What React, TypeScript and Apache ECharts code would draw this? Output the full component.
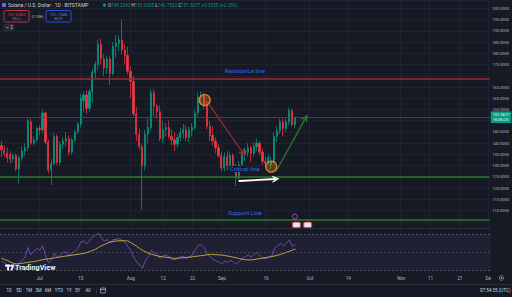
import React, { useEffect, useRef } from 'react';
import * as echarts from 'echarts';

const BG = '#161a25';
const GRID = '#1f2330';
const TXT = '#b2b5be';
const UP = '#089981';
const DOWN = '#f23645';
const BLUE = '#2f64f0';
const FONT = 'Roboto, "Liberation Sans", Arial, sans-serif';

// categories: daily bars Jun 18 2024 .. Dec 1 2024
const START_UTC = Date.UTC(2024, 5, 18);
const N_DAYS = 167;
const dates: string[] = Array.from({ length: N_DAYS }, (_, i) =>
  new Date(START_UTC + i * 86400000).toISOString().slice(0, 10)
);

const tickDates = ['2024-07-01', '2024-07-15', '2024-08-01', '2024-08-12', '2024-08-22', '2024-09-01', '2024-09-16', '2024-10-01', '2024-10-14', '2024-11-01', '2024-11-11', '2024-11-21', '2024-12-01'];
const tickLabels = ['Jul', '15', 'Aug', '12', '22', 'Sep', '16', 'Oct', '14', 'Nov', '11', '21', 'Dec'];

// [open, close, low, high]
const candlesJun = [
  [139, 137, 134, 141], [137, 135.5, 134, 139], [135.5, 133.5, 131.5, 138], [135, 133, 131, 136.5],
  [133, 134.5, 131.5, 135.5], [134.5, 128.5, 127.5, 135.5], [128.5, 133.5, 122, 134.5], [133.5, 136.5, 132, 138.5],
  [136.5, 138, 134.5, 140], [138, 150, 136.5, 151], [149.5, 140, 139, 151], [140, 141.5, 139, 143],
  [141.5, 146.5, 140.5, 147.5],
];
const candlesJul = [
  [146.5, 146, 143.5, 148], [146, 153.5, 144.5, 155], [153.5, 140.5, 139.5, 154], [140.5, 128, 126.5, 141.5],
  [128, 131, 121.5, 133], [131, 143, 130, 144.5], [143, 131.5, 130.5, 144], [131.5, 139.5, 130, 141],
  [139.5, 141, 137.5, 142.5], [141, 142, 138.5, 145], [142, 136, 134.5, 143.5], [136, 141.5, 135, 142.5],
  [141.5, 145, 140.5, 146], [145, 148.5, 144, 149.5], [148.5, 160, 147, 162], [159, 161.5, 154, 163],
  [161.5, 155.5, 153, 163.5], [155.5, 163, 154, 164], [163, 171.5, 158, 173], [171.5, 175, 169, 176.5],
  [175, 184, 172.5, 186], [184, 177.5, 175, 186.5], [177.5, 173.5, 170, 179.5], [173.5, 177.5, 171, 179],
  [177.5, 171, 166, 179], [171, 183, 170, 185], [183, 184.5, 178, 188], [184.5, 186, 181, 188],
  [186, 181.5, 179.5, 195], [181.5, 179, 175, 184], [179, 172, 170.5, 183],
];
const candlesAug = [
  [172, 167.5, 160, 174], [167.5, 153, 152, 170], [153, 144, 141, 156], [144, 138.5, 137, 146.5],
  [138.5, 130, 110.5, 140], [130, 144, 128, 146], [144, 147, 140, 151], [147, 162.5, 145.5, 164],
  [162.5, 156.5, 152, 164], [156.5, 154, 151, 157.5], [154, 142, 141, 157], [142, 146, 140, 150],
  [146, 147, 143, 149], [147, 143, 142, 150], [143, 141.5, 139, 146], [141.5, 139.5, 136.5, 145],
  [139.5, 142.5, 138, 144], [142.5, 144.5, 141, 147], [144.5, 146, 142, 148.5], [146, 142.5, 141, 148],
  [142.5, 146, 140.5, 147.5], [145.5, 147, 143, 149], [147, 153.5, 146, 155], [153.5, 160.5, 152, 162.5],
  [160.5, 161.5, 157, 163], [161.5, 157, 155, 162.5], [157, 147.5, 146, 159], [147.5, 143.5, 141, 150],
  [143.5, 141, 139, 147.5], [141, 138, 135.5, 142.5], [138, 134.5, 133.5, 139.5],
];
const candlesSep = [
  [134.5, 129, 127.5, 136], [129, 134, 127.5, 136], [134, 130, 128, 136.5], [130, 134.5, 128.5, 136],
  [134.5, 129, 128, 135.5], [129, 124.5, 121, 131], [124.5, 130.5, 123.5, 132], [130.5, 135, 128, 136.5],
  [135, 137, 132, 138], [136, 138, 134, 140], [138, 135.5, 131.5, 139], [135.5, 138.5, 134, 140.5],
  [138.5, 140, 136.5, 142], [140, 136, 134.5, 141], [136, 132, 130.5, 137.5], [132, 131, 129, 134],
  [131, 133.5, 130.5, 135], [130.5, 131.5, 128.5, 134], [131.5, 143, 131, 145], [143, 145.5, 140.5, 147.5],
  [145.5, 149.5, 144, 151], [149.5, 146.5, 143, 151], [146.5, 149.5, 145, 151], [149.5, 154.5, 148, 156],
  [154.5, 148.23, 147.5, 155.5], [148.2342, 151.5677, 146.7532, 151.6335],
];
const candles = [...candlesJun, ...candlesJul, ...candlesAug, ...candlesSep];

const rsi = [
  40, 38, 35, 34, 36, 30, 38, 41, 44, 55, 47, 51, 54,
  52, 57, 46, 38, 41, 49, 44, 47, 49.5, 50, 46, 49, 51, 54, 61, 62, 59, 63, 67, 68.5, 71, 66, 62, 64, 60, 64, 64, 65, 63, 61, 56,
  52, 44, 39, 35.5, 32, 41, 45, 52, 49, 47, 43, 46, 46.5, 45, 42, 41.5, 43, 45, 45, 43, 45, 46.5, 53, 57.5, 58, 55, 48, 44.5, 42, 40, 39,
  37, 40, 38.5, 41, 38.5, 36.5, 40, 43, 45, 46.5, 44.5, 47.5, 49.5, 46, 43, 42.5, 45, 45.5, 54.5, 57, 59.5, 57, 60, 63.5, 56.5, 58.67,
];
const rsiMa = [
  43, 42, 40.5, 39, 37.5, 36.8, 37, 37.5, 38, 38.5, 39, 39.3, 40,
  40.8, 41.5, 42, 42.5, 43, 43.5, 44, 44.6, 45.1, 45.6, 46, 46.5, 47, 47.5, 48, 48.4, 49.5, 50.5, 51.8, 53, 55, 57, 58.3, 59.8, 61, 61.8, 62.2, 62.5, 62.6, 62.5, 62.2,
  60.5, 58.5, 56.3, 54, 51.8, 50.3, 48.8, 47.5, 46.6, 45.8, 45, 44.6, 44.2, 43.8, 43.3, 43, 43.2, 43.4, 43.7, 44, 44.3, 44.7, 45.2, 45.6, 46, 46.4, 46.9, 47.4, 47.3, 47, 46.8,
  46.6, 46.1, 45.5, 45, 44.2, 43.5, 42.8, 42, 41.5, 41.1, 41.3, 41.7, 42.2, 42.7, 43.4, 43.9, 44.3, 44.9, 45.7, 46.5, 47.4, 48.5, 49.8, 51, 52.2, 53.2,
];

const resistance = 168.7259;
const critical = 125.0;
const support = 105.808;
const lastPrice = 151.5677;

// drawings (bar index, price)
const arrows = [
  { from: [70.2, 158.4], to: [82.4, 135.6], color: '#a0282f', width: 1.2 },
  { from: [93.6, 127.4], to: [103.8, 151.4], color: '#2e7d32', width: 1.2 },
  { from: [80.9, 123.2], to: [93.6, 124.1], color: '#ffffff', width: 1.8 },
];
const circles = [[69.3, 159.2], [92, 129.6]];

const CHEVRON = 'path://M0,10 L5,0 L10,10 L8,10 L5,4 L2,10 Z';
const GL = -1.8;
const GW = 492.65;

function priceLabel(v: number) {
  const r = Math.round(v * 1000) / 1000;
  if (Math.abs(r / 5 - Math.round(r / 5)) > 1e-6) return '';
  if (r === 150 || r === 105 || r === 170) return '';
  return r.toFixed(4);
}

function tag(text: string, bg: string, fg: string) {
  return {
    show: true, position: 'end', distance: 1, formatter: text, color: fg, backgroundColor: bg,
    fontSize: 4, padding: [1.2, 2], fontFamily: FONT, lineHeight: 4.6,
  };
}

export default function App() {
  const ref = useRef<HTMLDivElement>(null);
  useEffect(() => {
    document.body.style.margin = '0';
    document.body.style.background = BG;
    const chart = echarts.init(ref.current!, undefined, { renderer: 'svg' });
    const labelByDate: Record<string, string> = {};
    tickDates.forEach((d, i) => (labelByDate[d] = tickLabels[i]));
    const tickIdx = tickDates.map((d) => dates.indexOf(d));

    const lineLabel = (t: string) => ({
      show: true, position: 'middle', formatter: t, color: BLUE, fontSize: 6,
      backgroundColor: BG, padding: [0, 2], fontFamily: FONT,
    });

    const option: any = {
      animation: false,
      backgroundColor: BG,
      textStyle: { fontFamily: FONT },
      grid: [
        { left: GL, top: 0, width: GW, height: 228 },
        { left: GL, top: 229, width: GW, height: 44 },
      ],
      xAxis: [
        { type: 'category', gridIndex: 0, data: dates, axisLine: { show: false }, axisTick: { show: false }, axisLabel: { show: false }, splitLine: { show: false } },
        { type: 'value', gridIndex: 0, min: -0.5, max: N_DAYS - 0.5, show: false },
        {
          type: 'category', gridIndex: 1, data: dates, axisLine: { show: false }, axisTick: { show: false },
          axisLabel: {
            interval: (i: number) => tickIdx.includes(i),
            formatter: (v: string) => labelByDate[v] || '',
            color: TXT, fontSize: 4.6, margin: 2.5,
          },
          splitLine: { show: false },
        },
      ],
      yAxis: [
        {
          type: 'value', gridIndex: 0, position: 'right', min: 102.3, max: 203.7, splitNumber: 20, minInterval: 5, maxInterval: 5,
          axisLine: { show: false }, axisTick: { show: false },
          axisLabel: { formatter: priceLabel, color: TXT, fontSize: 4, margin: 2.5 },
          splitLine: { lineStyle: { color: GRID, width: 1 } },
        },
        { type: 'value', gridIndex: 1, min: 26.7, max: 75.6, show: false },
      ],
      series: [
        {
          type: 'line', xAxisIndex: 0, yAxisIndex: 0, data: [], silent: true,
          markLine: { z: 1, silent: true, symbol: 'none', label: { show: false }, lineStyle: { color: GRID, width: 1, type: 'solid' }, data: tickDates.map((d) => ({ xAxis: d })) },
        },
        {
          type: 'line', xAxisIndex: 2, yAxisIndex: 1, data: [], silent: true,
          markLine: { z: 1, silent: true, symbol: 'none', label: { show: false }, lineStyle: { color: GRID, width: 1, type: 'solid' }, data: tickDates.map((d) => ({ xAxis: d })) },
        },
        {
          type: 'candlestick', xAxisIndex: 0, yAxisIndex: 0, z: 3, barWidth: 1.7, data: candles,
          itemStyle: { color: UP, color0: DOWN, borderColor: UP, borderColor0: DOWN, borderWidth: 0.7 },
        },
        {
          type: 'line', xAxisIndex: 0, yAxisIndex: 0, data: [], silent: true,
          markLine: {
            z: 4, silent: true, symbol: 'none', label: { show: false },
            data: [
              { yAxis: lastPrice, lineStyle: { color: '#12695c', width: 0.8, type: 'solid' }, label: tag('151.5677\n16:05:25', UP, '#ffffff') },
              { yAxis: resistance, lineStyle: { color: '#a3272f', width: 1.6, type: 'solid' }, label: lineLabel('Resistance line') },
              { yAxis: resistance, lineStyle: { opacity: 0 }, label: tag('168.7259', '#b22833', '#ffffff') },
              { yAxis: critical, lineStyle: { color: '#2a7a30', width: 1.6, type: 'solid' }, label: lineLabel('Critical line') },
              { yAxis: critical, lineStyle: { opacity: 0 }, label: tag('125.0000', '#1f6b29', '#e8f5e9') },
              { yAxis: support, lineStyle: { color: '#2a7a30', width: 1.6, type: 'solid' }, label: lineLabel('Support Line') },
              { yAxis: support, lineStyle: { opacity: 0 }, label: tag('105.8080', '#1f6b29', '#e8f5e9') },
            ],
          },
        },
        {
          type: 'scatter', xAxisIndex: 1, yAxisIndex: 0, data: [], silent: true, z: 6,
          markLine: {
            z: 6, silent: true, symbol: ['none', CHEVRON], symbolSize: [7, 7], label: { show: false },
            data: arrows.map((a) => [
              { coord: a.from, lineStyle: { color: a.color, width: a.width, type: 'solid' } },
              { coord: a.to, lineStyle: { color: a.color, width: a.width, type: 'solid' } },
            ]),
          },
          markPoint: {
            z: 6, silent: true, label: { show: false },
            data: [
              ...circles.map((c) => ({ coord: c, symbol: 'circle', symbolSize: 11, itemStyle: { color: 'rgba(235,130,30,0.35)', borderColor: '#e8841f', borderWidth: 1.2 } })),
              { coord: [100.1, 107.4], symbol: 'circle', symbolSize: 5, itemStyle: { color: BG, borderColor: '#b04ad0', borderWidth: 1 } },
              { coord: [100.6, 103.7], symbol: 'roundRect', symbolSize: [8, 5.5], itemStyle: { color: '#e9e3ee', borderColor: '#e23a4d', borderWidth: 1 } },
              { coord: [104.4, 103.7], symbol: 'roundRect', symbolSize: [8, 5.5], itemStyle: { color: '#e9e3ee', borderColor: '#e23a4d', borderWidth: 1 } },
            ],
          },
        },
        {
          type: 'line', xAxisIndex: 2, yAxisIndex: 1, data: rsi, symbol: 'none', z: 4,
          lineStyle: { color: '#7e57c2', width: 0.8 },
          markArea: { silent: true, itemStyle: { color: 'rgba(126,87,194,0.1)' }, data: [[{ yAxis: 70 }, { yAxis: 30 }]] },
          markLine: {
            z: 3, silent: true, symbol: 'none', label: { show: false },
            data: [
              { yAxis: 70, lineStyle: { color: '#5d606b', width: 0.8, type: [2, 2] } },
              { yAxis: 50, lineStyle: { color: '#4a4d58', width: 0.8, type: [2, 2] } },
              { yAxis: 30, lineStyle: { color: '#5d606b', width: 0.8, type: [2, 2] } },
              { yAxis: 58.67, lineStyle: { opacity: 0 }, label: tag('58.67', '#7e57c2', '#ffffff') },
              { yAxis: 53.2, lineStyle: { opacity: 0 }, label: tag('53.20', '#e9c82e', '#131722') },
              { yAxis: 40, lineStyle: { opacity: 0 }, label: { show: true, position: 'end', distance: 2, formatter: '40.00', color: TXT, fontSize: 4 } },
            ],
          },
        },
        {
          type: 'line', xAxisIndex: 2, yAxisIndex: 1, data: rsiMa, symbol: 'none', z: 4,
          lineStyle: { color: '#d4b23a', width: 0.9 },
        },
      ],
      graphic: [
        // header
        { type: 'rect', z: 100, shape: { x: 2, y: 3, width: 4, height: 4, r: 1 }, style: { fill: '#7d5cf0' } },
        { type: 'text', z: 100, x: 8, y: 5.2, style: { text: 'Solana / U.S. Dollar · 1D · BITSTAMP', fill: '#d1d4dc', fontSize: 5, fontFamily: FONT, verticalAlign: 'middle' } },
        { type: 'circle', z: 100, shape: { cx: 104.5, cy: 5.2, r: 1.6 }, style: { fill: UP } },
        {
          type: 'text', z: 100, x: 108, y: 5.2,
          style: {
            text: '{k|O}{v|148.2342} {k|H}{v|151.6335} {k|L}{v|146.7532} {k|C}{v|151.5677} {v|+3.3335 (+2.25%)}',
            rich: { k: { fill: '#d1d4dc', fontSize: 4.6, fontFamily: FONT }, v: { fill: UP, fontSize: 4.6, fontFamily: FONT } },
            fontSize: 4.6, fontFamily: FONT, verticalAlign: 'middle',
          },
        },
        { type: 'rect', z: 100, shape: { x: 4, y: 10.5, width: 25, height: 11.5, r: 1.5 }, style: { fill: BG, stroke: DOWN, lineWidth: 0.8 } },
        { type: 'text', z: 100, x: 16.5, y: 14, style: { text: '151.6262', fill: DOWN, fontSize: 4.2, fontFamily: FONT, align: 'center', verticalAlign: 'middle' } },
        { type: 'text', z: 100, x: 16.5, y: 18.8, style: { text: 'SELL', fill: DOWN, fontSize: 4.2, fontFamily: FONT, align: 'center', verticalAlign: 'middle' } },
        { type: 'text', z: 100, x: 37.5, y: 16.3, style: { text: '0.1086', fill: TXT, fontSize: 3.8, fontFamily: FONT, align: 'center', verticalAlign: 'middle' } },
        { type: 'rect', z: 100, shape: { x: 46, y: 10.5, width: 25, height: 11.5, r: 1.5 }, style: { fill: BG, stroke: '#2962ff', lineWidth: 0.8 } },
        { type: 'text', z: 100, x: 58.5, y: 14, style: { text: '151.7348', fill: '#4a7dff', fontSize: 4.2, fontFamily: FONT, align: 'center', verticalAlign: 'middle' } },
        { type: 'text', z: 100, x: 58.5, y: 18.8, style: { text: 'BUY', fill: '#4a7dff', fontSize: 4.2, fontFamily: FONT, align: 'center', verticalAlign: 'middle' } },
        { type: 'rect', z: 100, shape: { x: 4, y: 24.5, width: 10, height: 6, r: 1 }, style: { fill: '#1e222d', stroke: '#363a45', lineWidth: 0.6 } },
        { type: 'polyline', z: 101, shape: { points: [[6, 26.8], [7.3, 28.1], [8.6, 26.8]] }, style: { stroke: '#d1d4dc', lineWidth: 0.7, fill: 'none' } },
        { type: 'text', z: 101, x: 10.3, y: 27.6, style: { text: '2', fill: '#d1d4dc', fontSize: 4.5, fontFamily: FONT, verticalAlign: 'middle' } },
        // pane separators
        { type: 'line', z: 50, shape: { x1: 0, y1: 228.5, x2: 491, y2: 228.5 }, style: { stroke: '#2a2e39', lineWidth: 1 } },
        { type: 'line', z: 50, shape: { x1: 0, y1: 284.5, x2: 512, y2: 284.5 }, style: { stroke: '#2a2e39', lineWidth: 1 } },
        // TradingView logo
        { type: 'rect', z: 100, shape: { x: 5, y: 264.6, width: 5.2, height: 2 }, style: { fill: '#f0f3fa' } },
        { type: 'rect', z: 100, shape: { x: 7.1, y: 264.6, width: 2, height: 6 }, style: { fill: '#f0f3fa' } },
        { type: 'circle', z: 100, shape: { cx: 11.2, cy: 265.6, r: 1 }, style: { fill: '#f0f3fa' } },
        { type: 'polygon', z: 100, shape: { points: [[10.2, 270.6], [12.6, 264.6], [14.6, 264.6], [12.2, 270.6]] }, style: { fill: '#f0f3fa' } },
        { type: 'text', z: 100, x: 15, y: 267.8, style: { text: 'TradingView', fill: '#f0f3fa', fontSize: 7.2, fontWeight: 'bold', fontFamily: FONT, verticalAlign: 'middle' } },
        // cover for clipped last time label + settings icon
        { type: 'rect', z: 100, shape: { x: 491, y: 273.5, width: 21, height: 10.5 }, style: { fill: BG } },
        { type: 'circle', z: 101, shape: { cx: 501.5, cy: 278, r: 2.3 }, style: { fill: 'none', stroke: TXT, lineWidth: 0.6 } },
        { type: 'circle', z: 101, shape: { cx: 501.5, cy: 278, r: 0.8 }, style: { fill: TXT } },
        // bottom toolbar
        ...[['1D', 9], ['5D', 19], ['1M', 29], ['3M', 38.5], ['6M', 48], ['YTD', 59], ['1Y', 69], ['5Y', 77.5], ['All', 88]].map(([t, x]) => ({
          type: 'text', z: 100, x, y: 290.5, style: { text: t, fill: '#d1d4dc', fontSize: 4.5, fontFamily: FONT, align: 'center', verticalAlign: 'middle' },
        })),
        { type: 'line', z: 100, shape: { x1: 96.5, y1: 287.5, x2: 96.5, y2: 293.5 }, style: { stroke: '#363a45', lineWidth: 0.7 } },
        { type: 'rect', z: 100, shape: { x: 100.5, y: 288, width: 5, height: 5, r: 0.6 }, style: { fill: 'none', stroke: '#d1d4dc', lineWidth: 0.6 } },
        { type: 'line', z: 100, shape: { x1: 100.5, y1: 289.5, x2: 105.5, y2: 289.5 }, style: { stroke: '#d1d4dc', lineWidth: 0.6 } },
        { type: 'text', z: 100, x: 510.5, y: 290.5, style: { text: '07:54:35 (UTC)', fill: '#d1d4dc', fontSize: 4.6, fontFamily: FONT, align: 'right', verticalAlign: 'middle' } },
      ],
    };
    chart.setOption(option);
    return () => chart.dispose();
  }, []);
  return <div ref={ref} style={{ position: 'absolute', left: 0, top: 0, width: 512, height: 297 }} />;
}
